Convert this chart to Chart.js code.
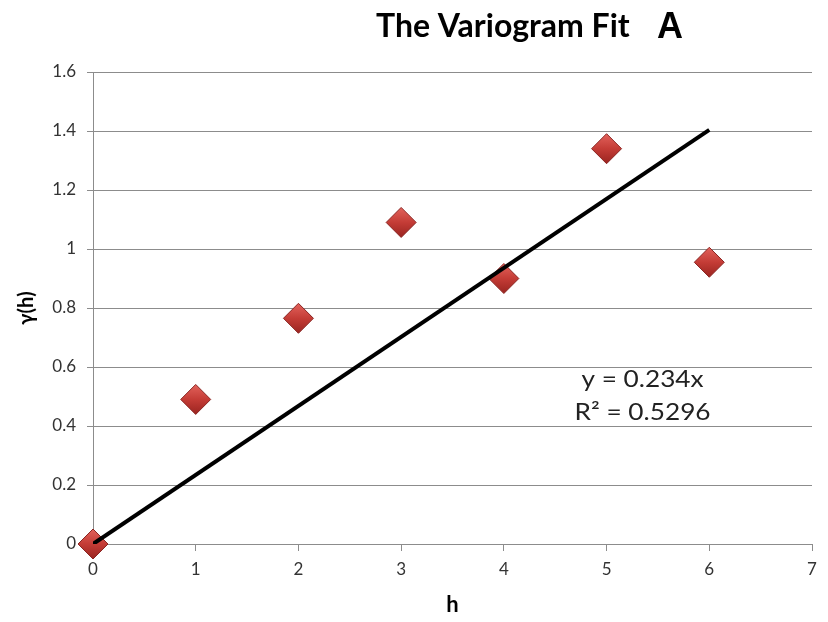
<!DOCTYPE html>
<html>
<head>
<meta charset="utf-8">
<script src="https://cdn.jsdelivr.net/npm/chart.js@4/dist/chart.umd.min.js"></script>
<style>
  html, body { margin: 0; padding: 0; background: #fff; }
  #wrap { width: 828px; height: 622px; position: relative; }
</style>
</head>
<body>
<div id="wrap"><canvas id="variogramChart"></canvas></div>
<script>
// lag distances and semivariance
const lags = [0, 1, 2, 3, 4, 5, 6];
const gammaValues = [0, 0.49, 0.765, 1.09, 0.9, 1.34, 0.955];

// fitted trend y = 0.234x (through origin)
const slope = 0.234;
const trendX = [0, 6];

const xTickValues = [0, 1, 2, 3, 4, 5, 6, 7];
const yTickValues = [0, 0.2, 0.4, 0.6, 0.8, 1, 1.2, 1.4, 1.6];
const yTickLabels = ['0', '0.2', '0.4', '0.6', '0.8', '1', '1.2', '1.4', '1.6'];

const equationLines = ['y = 0.234x', 'R\u00b2 = 0.5296'];

const fontFamily = 'Lato, "Open Sans", sans-serif';
const gridColor = '#8c8c8c';

// title and fit equation drawn as plain text
const textPlugin = {
  id: 'textPlugin',
  afterDraw(chart) {
    const ctx = chart.ctx;
    const { x, y } = chart.scales;
    ctx.save();
    ctx.fillStyle = '#000';
    ctx.textBaseline = 'alphabetic';
    ctx.textAlign = 'left';
    ctx.font = 'bold 32px ' + fontFamily;
    ctx.fillText('The Variogram Fit', 376, 37);
    ctx.font = 'bold 36px "Liberation Sans", Arial, sans-serif';
    ctx.fillText('A', 657, 38);

    // equation text is a bit wide in the original, stretch it slightly
    ctx.fillStyle = '#222';
    ctx.textAlign = 'center';
    ctx.font = '23px ' + fontFamily;
    const cx = x.getPixelForValue(5.35);
    const sx = 1.14;
    ctx.translate(cx, 0);
    ctx.scale(sx, 1);
    ctx.fillText(equationLines[0], 0, y.getPixelForValue(0.532));
    ctx.fillText(equationLines[1], 0, y.getPixelForValue(0.42));
    ctx.restore();
  }
};

const ctx = document.getElementById('variogramChart').getContext('2d');

new Chart(ctx, {
  data: {
    datasets: [
      {
        type: 'line',
        label: 'Linear fit',
        data: trendX.map(v => ({ x: v, y: slope * v })),
        borderColor: '#000',
        borderWidth: 4,
        pointRadius: 0,
        tension: 0,
        fill: false,
        order: 0
      },
      {
        type: 'scatter',
        label: 'gamma(h)',
        data: lags.map((h, i) => ({ x: h, y: gammaValues[i] })),
        pointStyle: 'rectRot',
        pointRadius: 15,
        pointHoverRadius: 15,
        borderWidth: 1,
        borderColor: '#8a2522',
        backgroundColor: (c) => {
          const chart = c.chart;
          if (!c.parsed || !chart.chartArea) return '#c43c36';
          const py = chart.scales.y.getPixelForValue(c.parsed.y);
          const g = chart.ctx.createLinearGradient(0, py - 15, 0, py + 15);
          g.addColorStop(0, '#e2625b');
          g.addColorStop(0.5, '#c43c36');
          g.addColorStop(1, '#9a2420');
          return g;
        },
        clip: false,
        order: 1
      }
    ]
  },
  options: {
    responsive: true,
    maintainAspectRatio: false,
    animation: false,
    layout: { padding: { top: 72, right: 12, left: 0, bottom: 0 } },
    plugins: {
      legend: { display: false },
      title: { display: false },
      tooltip: { enabled: false }
    },
    scales: {
      x: {
        type: 'linear',
        min: 0,
        max: 7,
        afterBuildTicks: (scale) => { scale.ticks = xTickValues.map(v => ({ value: v })); },
        afterFit: (scale) => { scale.height = 78; },
        grid: {
          drawOnChartArea: false,
          drawTicks: true,
          tickLength: 7,
          color: gridColor
        },
        border: { color: gridColor, width: 1 },
        ticks: {
          color: '#333',
          font: { family: fontFamily, size: 17 },
          padding: 8,
          maxRotation: 0
        },
        title: {
          display: true,
          text: 'h',
          color: '#000',
          font: { family: fontFamily, size: 22, weight: 'bold' },
          padding: { top: 0, bottom: 4 }
        }
      },
      y: {
        type: 'linear',
        min: 0,
        max: 1.6,
        afterBuildTicks: (scale) => { scale.ticks = yTickValues.map(v => ({ value: v })); },
        afterFit: (scale) => { scale.width = 93; },
        grid: {
          drawTicks: true,
          tickLength: 6,
          color: gridColor
        },
        border: { color: gridColor, width: 1 },
        ticks: {
          color: '#333',
          font: { family: fontFamily, size: 17 },
          padding: 11,
          callback: (value, index) => yTickLabels[index]
        },
        title: {
          display: true,
          text: '\u03b3(h)',
          color: '#000',
          font: { family: fontFamily, size: 20, weight: 'bold' },
          padding: { top: 15, bottom: 0 }
        }
      }
    }
  },
  plugins: [textPlugin]
});
</script>
</body>
</html>
